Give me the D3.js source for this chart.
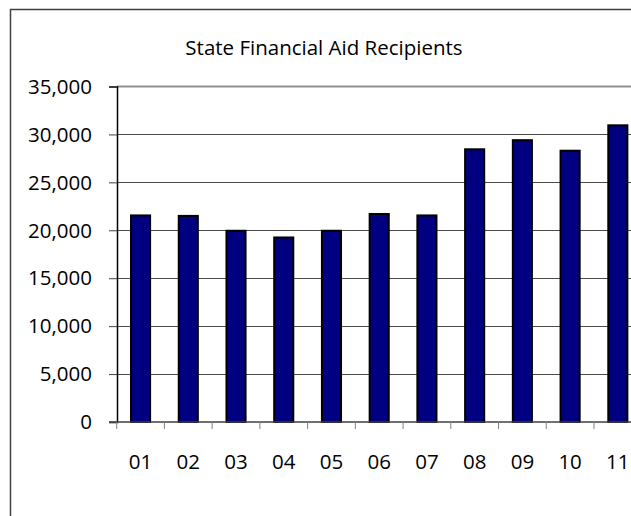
<!DOCTYPE html>
<html>
<head>
<meta charset="utf-8">
<script src="https://cdn.jsdelivr.net/npm/d3@7"></script>
<style>
  body { margin: 0; background: #fff; }
  svg { display: block; }
  text { font-family: "Open Sans", sans-serif; fill: #000; }
</style>
</head>
<body>
<div id="chart"></div>
<script>
// state financial aid recipients by year
var years = ["01", "02", "03", "04", "05", "06", "07", "08", "09", "10", "11"];
var recipients = [21550, 21500, 19950, 19250, 19950, 21700, 21550, 28450, 29400, 28300, 30950];
var yTicks = [0, 5000, 10000, 15000, 20000, 25000, 30000, 35000];

var width = 631, height = 516;

var svg = d3.select("#chart").append("svg")
  .attr("width", width)
  .attr("height", height);

// chart area border (runs off the right and bottom)
svg.append("path")
  .attr("d", "M10.5,520V9.5H640")
  .attr("fill", "none")
  .attr("stroke", "#404040")
  .attr("stroke-width", 1.5);

svg.append("text")
  .attr("x", 324)
  .attr("y", 55)
  .attr("text-anchor", "middle")
  .style("font-size", "20.5px")
  .text("State Financial Aid Recipients");

var x = d3.scaleBand()
  .domain(years)
  .range([116.7, 641.7])
  .padding(0);

var y = d3.scaleLinear()
  .domain([0, 35000])
  .range([422, 86.5]);

var barW = x.step() * 0.4;

// gridlines
svg.selectAll(".grid")
  .data(yTicks.filter(function(d) { return d > 0 && d < 35000; }))
  .enter()
  .append("line")
  .attr("x1", 117).attr("x2", width)
  .attr("y1", function(d) { return Math.round(y(d)) + 0.5; })
  .attr("y2", function(d) { return Math.round(y(d)) + 0.5; })
  .attr("stroke", "#4a4a4a")
  .attr("stroke-width", 1);

// plot area top edge
svg.append("line")
  .attr("x1", 117).attr("x2", width)
  .attr("y1", y(35000)).attr("y2", y(35000))
  .attr("stroke", "#909090")
  .attr("stroke-width", 2);

// bars
svg.selectAll(".bar")
  .data(recipients)
  .enter()
  .append("rect")
  .attr("x", function(d, i) { return x(years[i]) + (x.step() - barW) / 2; })
  .attr("y", function(d) { return y(d); })
  .attr("width", barW)
  .attr("height", function(d) { return y(0) - y(d); })
  .attr("fill", "#000080")
  .attr("stroke", "#000")
  .attr("stroke-width", 2);

// y axis
var yAxis = d3.axisLeft(y)
  .tickValues(yTicks)
  .tickSize(8)
  .tickPadding(0)
  .tickFormat(d3.format(","));

var gy = svg.append("g")
  .attr("transform", "translate(117,0)")
  .call(yAxis);
gy.select(".domain").attr("stroke", "#000").attr("stroke-width", 1.5);
gy.selectAll(".tick line").attr("stroke", "#404040");
gy.selectAll(".tick text")
  .attr("x", -25)
  .attr("dy", "0.33em")
  .style("font-size", "20.5px")
  .style("font-family", "'Open Sans', sans-serif")
  .attr("fill", "#000");

// x axis
var xAxis = d3.axisBottom(x)
  .tickSize(0)
  .tickPadding(0);

var gx = svg.append("g")
  .attr("transform", "translate(0,422)")
  .call(xAxis);
gx.select(".domain").remove();
gx.append("line")
  .attr("x1", 109).attr("x2", width)
  .attr("stroke", "#404040")
  .attr("stroke-width", 1.5);
gx.selectAll(".sep")
  .data(years.concat(["end"]))
  .enter()
  .append("line")
  .attr("x1", function(d, i) { return x.range()[0] + i * x.step(); })
  .attr("x2", function(d, i) { return x.range()[0] + i * x.step(); })
  .attr("y1", 0).attr("y2", 7)
  .attr("stroke", "#808080");
gx.selectAll(".tick text")
  .attr("y", 47)
  .attr("dy", 0)
  .style("font-size", "20.5px")
  .style("font-family", "'Open Sans', sans-serif")
  .attr("fill", "#000");
</script>
</body>
</html>
